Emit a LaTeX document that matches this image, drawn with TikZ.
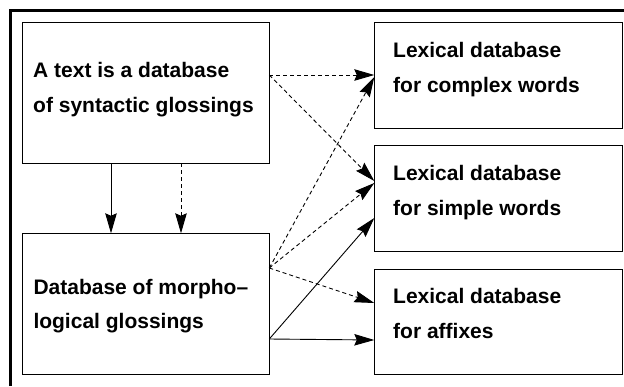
\documentclass[tikz,border=0pt]{standalone}
\usepackage{fontspec}
\setmainfont{Liberation Sans}
\usetikzlibrary{arrows.meta}

\begin{document}
\begin{tikzpicture}[x=1pt,y=-1pt,
  box/.style={draw, rectangle, line width=1pt, inner sep=0pt, outer sep=0pt,
              minimum width=247pt, anchor=north west},
  lbl/.style={anchor=base west, inner sep=0pt,
              font=\fontsize{21}{35}\bfseries\selectfont},
  link/.style={line width=0.9pt, -{Stealth[length=20pt,width=11.5pt,inset=2.5pt]}},
  dlink/.style={link, dash pattern=on 4pt off 3pt}]
\useasboundingbox (0,0) rectangle (624,386);

% heavy frame along the top and left
\draw[line width=3pt] (10.5,386) -- (10.5,10) -- (624,10);

% boxes
\node[box, minimum height=141pt]   (a)  at (22.3,22.3)  {};
\node[box, minimum height=141.4pt] (d)  at (22.3,233.3) {};
\node[box, minimum height=105.7pt, minimum width=247.7pt] (l1) at (374.3,22.3) {};
\node[box, minimum height=106pt, minimum width=247.7pt]   (l2) at (374.3,145)  {};
\node[box, minimum height=105.7pt, minimum width=247.7pt] (l3) at (374.3,269)  {};

% box texts
\node[lbl] (a1) at (33,77)    {A text is a database};
\node[lbl] (a2) at (33,112)   {of syntactic glossings};
\node[lbl] (d1) at (33.3,294) {Database of morpho–};
\node[lbl] (d2) at (33.3,328) {logical glossings};
\node[lbl] (l1a) at (393,57)  {Lexical database};
\node[lbl] (l1b) at (393,92)  {for complex words};
\node[lbl] (l2a) at (393,180) {Lexical database};
\node[lbl] (l2b) at (393,215) {for simple words};
\node[lbl] (l3a) at (393,303) {Lexical database};
\node[lbl] (l3b) at (393,338) {for affixes};

% text database -> morphological glossings
\draw[link]  ([xshift=88.7pt]a.south west)  -- ([xshift=88.7pt]d.north west);
\draw[dlink] ([xshift=158.7pt]a.south west) -- ([xshift=158.7pt]d.north west);

% text database -> lexical databases
\draw[dlink] ([yshift=-52.7pt]a.north east) -- ([yshift=-52.7pt]l1.north west);
\draw[dlink] ([yshift=-52.7pt]a.north east) -- ([yshift=-36pt]l2.north west);

% morphological glossings -> lexical databases
\draw[dlink] ([yshift=-34.7pt]d.north east) -- ([yshift=-54.7pt]l1.north west);
\draw[dlink] ([yshift=-34.7pt]d.north east) -- ([yshift=-38pt]l2.north west);
\draw[dlink] ([yshift=-34.7pt]d.north east) -- ([yshift=-34pt]l3.north west);
\draw[link]  ([yshift=-105.7pt]d.north east) -- ([yshift=-73pt]l2.north west);
\draw[link]  ([yshift=-105.7pt]d.north east) -- ([yshift=-71pt]l3.north west);
\end{tikzpicture}
\end{document}
